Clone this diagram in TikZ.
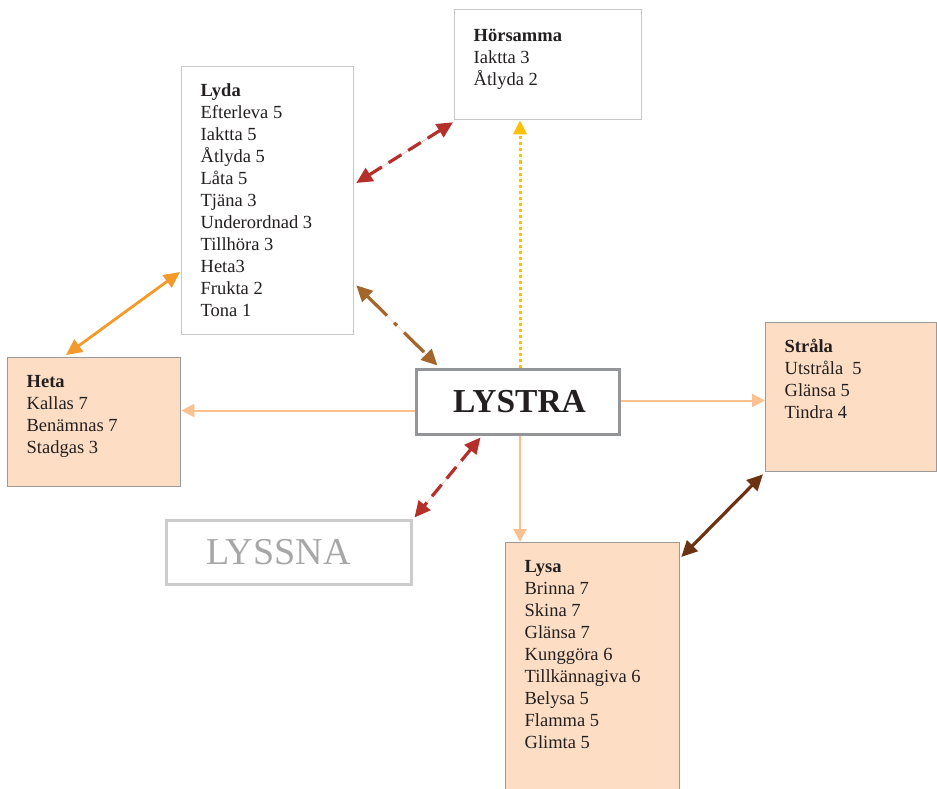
\documentclass[tikz,border=0pt]{standalone}
\usepackage{fontspec}
\setmainfont{Liberation Serif}
\usetikzlibrary{arrows.meta,calc}
\definecolor{txt}{HTML}{231F20}
\definecolor{lightframe}{HTML}{C8C8C8}
\definecolor{darkframe}{HTML}{9A9A9A}
\definecolor{centerframe}{HTML}{939598}
\definecolor{lyssnaframe}{HTML}{CCCCCC}
\definecolor{lyssnatext}{HTML}{A7A7A7}
\definecolor{peach}{HTML}{FDDEC4}
\definecolor{redarrow}{HTML}{B5302A}
\definecolor{yellowarrow}{HTML}{FFC000}
\definecolor{brownarrow}{HTML}{A4652A}
\definecolor{orangearrow}{HTML}{F39A2B}
\definecolor{peachline}{HTML}{FBC08F}
\definecolor{darkbrown}{HTML}{6B3312}
\newcommand\boxtxt[3]{\hspace*{19pt}\parbox[c][#2][t]{#1}{\raggedright\rule{0pt}{30pt}#3}}
\begin{document}
\begin{tikzpicture}[x=1pt,y=-1pt,
  whitebox/.style={draw=lightframe, line width=1.3pt, fill=white, inner sep=0pt,
    anchor=north west, font=\fontsize{18.5}{22}\selectfont, text=txt},
  peachbox/.style={whitebox, draw=darkframe, fill=peach},
  dbltip/.style={{Triangle[length=16pt,width=15pt]}-{Triangle[length=16pt,width=15pt]}},
  onetip/.style={-{Triangle[length=14pt,width=13pt]}},
  thintip/.style={-{Triangle[length=13pt,width=13pt]}, draw=peachline, line width=2pt},
  reddash/.style={dbltip, draw=redarrow, fill=redarrow, line width=3.2pt, dash pattern=on 15pt off 8pt}
]
\useasboundingbox (0,0) rectangle (937,789);

% boxes
\node[whitebox] (lyda) at (181,66) {\boxtxt{153pt}{268pt}{\textbf{Lyda}\\
Efterleva 5\\ Iaktta 5\\ Åtlyda 5\\ Låta 5\\ Tjäna 3\\ Underordnad 3\\ Tillhöra 3\\ Heta3\\ Frukta 2\\ Tona 1}};

\node[whitebox] (hors) at (454,9) {\hspace*{19pt}\parbox[c][110pt][t]{168pt}{\raggedright\rule{0pt}{32pt}\textbf{Hörsamma}\\ Iaktta 3\\ Åtlyda 2}};

\node[peachbox] (heta) at (7,357) {\boxtxt{154pt}{129pt}{\textbf{Heta}\\ Kallas 7\\ Benämnas 7\\ Stadgas 3}};

\node[peachbox] (strala) at (765,322) {\boxtxt{152pt}{149pt}{\textbf{Stråla}\\ Utstråla~ 5\\ Glänsa 5\\ Tindra 4}};

\node[peachbox] (lysa) at (505,542) {\boxtxt{155pt}{270pt}{\textbf{Lysa}\\ Brinna 7\\ Skina 7\\ Glänsa 7\\ Kunggöra 6\\ Tillkännagiva 6\\ Belysa 5\\ Flamma 5\\ Glimta 5}};

\node[draw=centerframe, line width=3pt, fill=white, minimum width=203pt, minimum height=65pt,
  inner sep=0pt, text=txt, font=\fontsize{33.5}{36}\selectfont\bfseries] (lystra) at (517.5,401.5) {\hspace*{4pt}LYSTRA};

\node[draw=lyssnaframe, line width=3pt, fill=white, minimum width=245pt, minimum height=64pt,
  inner sep=0pt, text=lyssnatext, font=\fontsize{38}{40}\selectfont] (lyssna) at (288.5,552) {LYSSNA\hspace*{20pt}};

% connectors
\draw[reddash] ([shift={(2,117)}]lyda.north east) -- ([shift={(-1,2)}]hors.south west);
\draw[onetip, draw=yellowarrow, fill=yellowarrow, line width=3pt, dash pattern=on 3pt off 3pt]
  ([xshift=2.5pt]lystra.north) -- ([xshift=2.5pt]lystra.north |- hors.south);
\draw[dbltip, draw=brownarrow, fill=brownarrow, line width=3.2pt, dash pattern=on 28pt off 10pt on 4pt off 10pt]
  ([shift={(2,-50)}]lyda.south east) -- ([shift={(23,-2)}]lystra.north west);
\draw[dbltip, draw=orangearrow, fill=orangearrow, line width=2.8pt]
  ([shift={(59,-2)}]heta.north west) -- ([shift={(-1,206)}]lyda.north west);
\draw[thintip, fill=peachline] ([shift={(0,9)}]lystra.west) -- ([shift={(0,9)}]lystra.west -| heta.east);
\draw[thintip, fill=peachline] ([shift={(0,-1)}]lystra.east) -- ([shift={(0,-1)}]lystra.east -| strala.west);
\draw[thintip, fill=peachline] ([xshift=2.5pt]lystra.south) -- ([xshift=2.5pt]lystra.south |- lysa.north);
\draw[reddash] ([shift={(66,2)}]lystra.south west) -- ([shift={(2,-1)}]lyssna.north east);
\draw[dbltip, draw=darkbrown, fill=darkbrown, line width=3.2pt]
  ([shift={(-2,2)}]strala.south west) -- ([shift={(1,15)}]lysa.north east);
\end{tikzpicture}
\end{document}
